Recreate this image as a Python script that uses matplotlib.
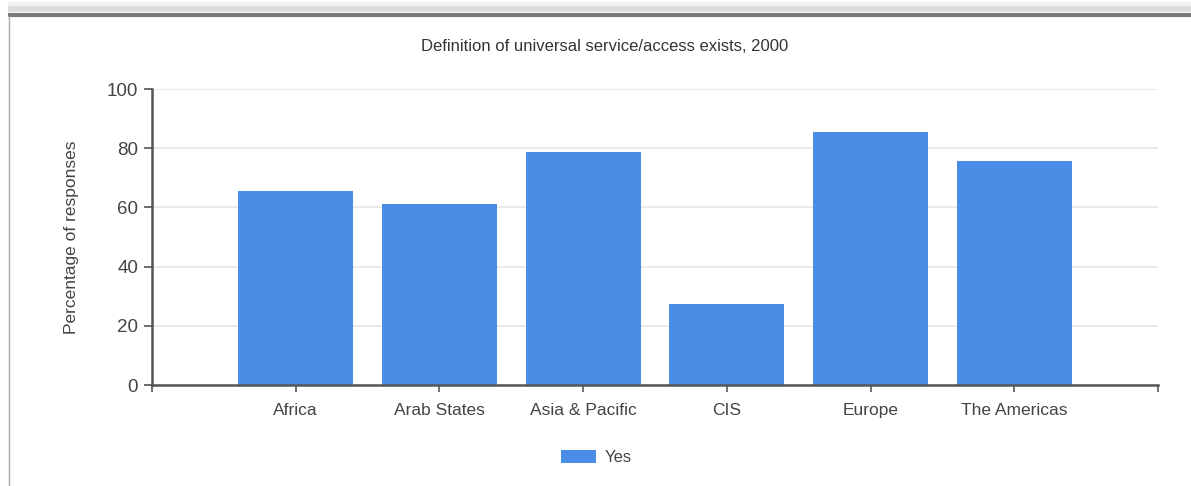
import matplotlib
matplotlib.use("Agg")
import matplotlib.pyplot as plt
from matplotlib.lines import Line2D

plt.rcParams['font.family'] = ['Liberation Sans', 'DejaVu Sans']

regions = ['Africa', 'Arab States', 'Asia & Pacific', 'CIS', 'Europe', 'The Americas']
yes_pct = [65.6, 61.3, 78.6, 27.4, 85.6, 75.7]
y_ticks = [0, 20, 40, 60, 80, 100]

bar_color = '#4a8de6'
axis_color = '#555555'
text_color = '#444444'

fig = plt.figure(figsize=(11.91, 4.86), dpi=100)
ax = fig.add_axes([0.1276, 0.2078, 0.8447, 0.609])

x = list(range(len(regions)))
ax.bar(x, yes_pct, width=0.8, color=bar_color, label='Yes', zorder=2)

ax.set_xlim(-1, len(regions))
ax.set_ylim(0, 100)
ax.set_yticks(y_ticks)
ax.set_xticks(x)
ax.set_xticklabels(regions)
ax.set_xticks([-1, len(regions)], minor=True)
ax.grid(axis='y', color='#e6e6e6', lw=1.2, zorder=0)
ax.set_axisbelow(True)

for side in ('top', 'right'):
    ax.spines[side].set_visible(False)
for side in ('left', 'bottom'):
    ax.spines[side].set_color(axis_color)
    ax.spines[side].set_linewidth(1.8)
    ax.spines[side].set_zorder(3)

ax.tick_params(axis='y', length=6, width=1.2, color=axis_color,
               labelsize=13.5, labelcolor=text_color, pad=4)
ax.tick_params(axis='x', which='both', length=5, width=1.2, color=axis_color,
               labelsize=12.5, labelcolor=text_color, pad=8)

ax.set_ylabel('Percentage of responses', fontsize=12.5, color=text_color, labelpad=20)
fig.text(0.508, 0.905, 'Definition of universal service/access exists, 2000',
         ha='center', va='center', fontsize=12, color='#333333')

fig.legend(loc='center', bbox_to_anchor=(0.501, 0.058), frameon=False,
           fontsize=12, handlelength=2.1, handleheight=0.8, handletextpad=0.5,
           labelcolor=text_color)

# panel border: shaded top edge and thin left edge
for off, lw, c in [(0.018, 6, '#f2f2f2'), (0.012, 4, '#dddddd'), (0.0, 3, '#7a7a7a')]:
    fig.add_artist(Line2D([0.007, 1.0], [0.970 + off, 0.970 + off], color=c, lw=lw,
                          transform=fig.transFigure, solid_capstyle='butt'))
fig.add_artist(Line2D([0.0075, 0.0075], [0.0, 0.968], color='#aaaaaa', lw=1,
                      transform=fig.transFigure))

fig.savefig('out.png', dpi=100, facecolor='white')
